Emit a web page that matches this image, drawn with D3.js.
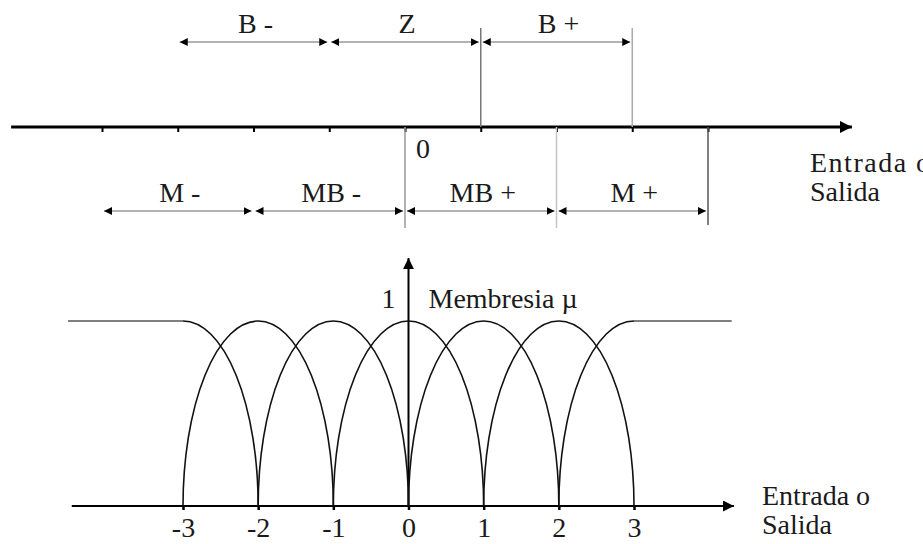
<!DOCTYPE html>
<html>
<head>
<meta charset="utf-8">
<script src="https://cdn.jsdelivr.net/npm/d3@7"></script>
<style>
  body { margin: 0; background: #fff; }
  svg { display: block; }
  text { font-family: "Liberation Serif", "DejaVu Serif", serif; font-size: 28px; fill: #1a1a1a; }
</style>
</head>
<body>
<svg id="plot" width="923" height="544"></svg>
<script>
// upper number line (universe of discourse)
const lineTicks = [-4, -3, -2, -1, 0, 1, 2, 3, 4];
const lineExtent = [-5.2, 5.9];
const upperSets = ['B -', 'Z', 'B +'];
const upperBounds = [[-3, -1], [-1, 1], [1, 3]];
const lowerSets = ['M -', 'MB -', 'MB +', 'M +'];
const lowerBounds = [[-4, -2], [-2, 0], [0, 2], [2, 4]];
const guidesUp = [1, 3];
const guidesDown = [0, 2, 4];
const lineLabel = ['Entrada o', 'Salida'];

// membership functions
const muTicks = [-3, -2, -1, 0, 1, 2, 3];
const muExtent = [-4.48, 4.33];
const archCenters = [-2, -1, 0, 1, 2];
const leftShoulder = { flatFrom: -4.53, top: -3, foot: -2 };
const rightShoulder = { foot: 2, top: 3, flatTo: 4.3 };
const muTop = 1.34;
const muAxisLabel = 'Membresia µ';
const muLabel = ['Entrada o', 'Salida'];

const plot = d3.select('#plot');

const defs = plot.append('defs');
function marker(id, w, h) {
  defs.append('marker')
      .attr('id', id)
      .attr('viewBox', '0 0 10 10')
      .attr('refX', 10)
      .attr('refY', 5)
      .attr('markerUnits', 'userSpaceOnUse')
      .attr('markerWidth', w)
      .attr('markerHeight', h)
      .attr('orient', 'auto-start-reverse')
    .append('path')
      .attr('d', 'M0,0L10,5L0,10Z')
      .attr('fill', '#000');
}
marker('head', 8, 10);
marker('bigHead', 12, 13);
marker('axisHead', 11, 11);

/* upper diagram */
const xTop = d3.scaleLinear()
               .domain([-4, 4])
               .range([102, 708]);

const axisY = 127;
const upperY = 42;
const lowerY = 211;

plot.append('line')
    .attr('x1', xTop(lineExtent[0]))
    .attr('x2', xTop(lineExtent[1]))
    .attr('y1', axisY)
    .attr('y2', axisY)
    .attr('stroke', '#000')
    .attr('stroke-width', 3)
    .attr('marker-end', 'url(#bigHead)');

const topAxis = d3.axisBottom(xTop)
                  .tickValues(lineTicks)
                  .tickSize(5)
                  .tickFormat('');

const gTop = plot.append('g')
    .classed('xAxisTop', true)
    .attr('transform', `translate(0, ${axisY})`)
    .call(topAxis);
gTop.select('.domain').remove();
gTop.selectAll('.tick line').attr('stroke', '#000').attr('stroke-width', 2);

plot.selectAll('.guideUp')
    .data(guidesUp)
    .enter().append('line')
    .attr('x1', d => xTop(d))
    .attr('x2', d => xTop(d))
    .attr('y1', 28)
    .attr('y2', axisY)
    .attr('stroke', (d, i) => i === 0 ? '#777' : '#aaa')
    .attr('stroke-width', 1.5);

plot.selectAll('.guideDown')
    .data(guidesDown)
    .enter().append('line')
    .attr('x1', d => xTop(d))
    .attr('x2', d => xTop(d))
    .attr('y1', axisY)
    .attr('y2', (d, i) => i === 2 ? 225 : 228)
    .attr('stroke', (d, i) => ['#999', '#c4c4c4', '#555'][i])
    .attr('stroke-width', 1.5);

function spans(bounds, names, y, cls) {
  plot.selectAll('.' + cls)
      .data(bounds)
      .enter().append('line')
      .attr('x1', d => xTop(d[0]) + 2)
      .attr('x2', d => xTop(d[1]) - 2)
      .attr('y1', y)
      .attr('y2', y)
      .attr('stroke', '#999')
      .attr('stroke-width', 1.5)
      .attr('marker-start', 'url(#head)')
      .attr('marker-end', 'url(#head)');

  plot.selectAll('.' + cls + 'Label')
      .data(names)
      .enter().append('text')
      .attr('text-anchor', 'middle')
      .attr('x', (d, i) => xTop((bounds[i][0] + bounds[i][1]) / 2) + 2)
      .attr('y', y - 9)
      .text(d => d);
}
spans(upperBounds, upperSets, upperY, 'upper');
spans(lowerBounds, lowerSets, lowerY, 'lower');

plot.append('text')
    .attr('x', xTop(0) + 11)
    .attr('y', 158)
    .text('0');

plot.selectAll('.lineLabel')
    .data(lineLabel)
    .enter().append('text')
    .attr('x', 810)
    .attr('y', (d, i) => 172 + i * 29)
    .style('letter-spacing', (d, i) => i === 0 ? '1.5px' : null)
    .text(d => d);

/* membership functions */
const xMu = d3.scaleLinear()
              .domain([-3, 3])
              .range([183, 634]);

const yMu = d3.scaleLinear()
              .domain([0, 1])
              .range([506, 321]);

const rx = xMu(1) - xMu(0);
const ry = yMu(0) - yMu(1);

plot.append('line')
    .attr('x1', xMu(muExtent[0]))
    .attr('x2', xMu(muExtent[1]))
    .attr('y1', yMu(0))
    .attr('y2', yMu(0))
    .attr('stroke', '#000')
    .attr('stroke-width', 2)
    .attr('marker-end', 'url(#axisHead)');

plot.append('line')
    .attr('x1', xMu(0))
    .attr('x2', xMu(0))
    .attr('y1', yMu(0))
    .attr('y2', yMu(muTop))
    .attr('stroke', '#000')
    .attr('stroke-width', 2)
    .attr('marker-end', 'url(#axisHead)');

const muAxis = d3.axisBottom(xMu)
                 .tickValues(muTicks)
                 .tickSize(4)
                 .tickPadding(7)
                 .tickFormat(d => String(d));

const gMu = plot.append('g')
    .classed('xAxisMu', true)
    .attr('transform', `translate(0, ${yMu(0)})`)
    .call(muAxis);
gMu.select('.domain').remove();
gMu.selectAll('.tick line').attr('stroke', '#000').attr('stroke-width', 2.5);
gMu.selectAll('.tick text')
   .attr('fill', '#1a1a1a')
   .style('font-family', '"Liberation Serif", serif')
   .style('font-size', '28px');

plot.selectAll('.arch')
    .data(archCenters)
    .enter().append('path')
    .attr('d', c => `M${xMu(c - 1)},${yMu(0)}A${rx},${ry} 0 0 1 ${xMu(c + 1)},${yMu(0)}`)
    .attr('fill', 'none')
    .attr('stroke', '#111')
    .attr('stroke-width', 1.6);

plot.append('path')
    .attr('d', `M${xMu(leftShoulder.top)},${yMu(1)}A${rx},${ry} 0 0 1 ${xMu(leftShoulder.foot)},${yMu(0)}`)
    .attr('fill', 'none')
    .attr('stroke', '#111')
    .attr('stroke-width', 1.6);

plot.append('path')
    .attr('d', `M${xMu(rightShoulder.foot)},${yMu(0)}A${rx},${ry} 0 0 1 ${xMu(rightShoulder.top)},${yMu(1)}`)
    .attr('fill', 'none')
    .attr('stroke', '#111')
    .attr('stroke-width', 1.6);

plot.append('line')
    .attr('x1', xMu(leftShoulder.flatFrom))
    .attr('x2', xMu(leftShoulder.top))
    .attr('y1', yMu(1))
    .attr('y2', yMu(1))
    .attr('stroke', '#555')
    .attr('stroke-width', 1.3);

plot.append('line')
    .attr('x1', xMu(rightShoulder.top))
    .attr('x2', xMu(rightShoulder.flatTo))
    .attr('y1', yMu(1))
    .attr('y2', yMu(1))
    .attr('stroke', '#555')
    .attr('stroke-width', 1.3);

plot.append('text')
    .attr('text-anchor', 'end')
    .attr('x', xMu(0) - 13)
    .attr('y', 308)
    .text('1');

plot.append('text')
    .attr('x', xMu(0) + 20)
    .attr('y', 308)
    .text(muAxisLabel);

plot.selectAll('.muLabel')
    .data(muLabel)
    .enter().append('text')
    .attr('x', 762)
    .attr('y', (d, i) => 505 + i * 29)
    .text(d => d);
</script>
</body>
</html>
